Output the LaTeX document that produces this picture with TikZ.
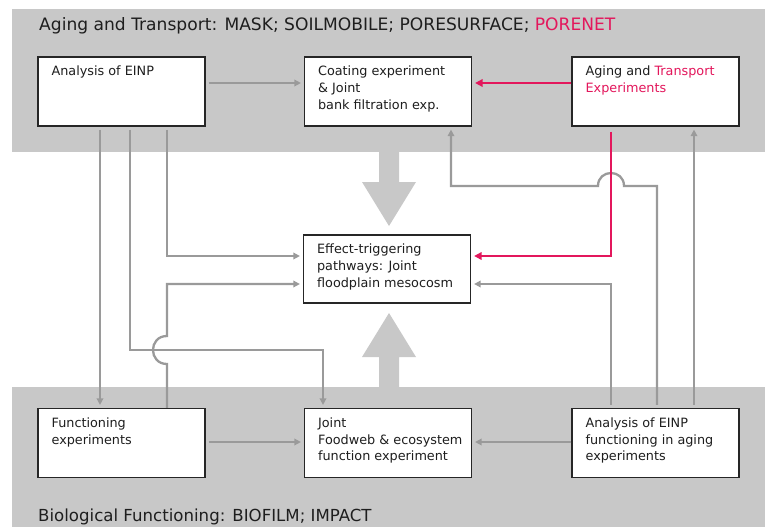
\documentclass[tikz,border=0pt]{standalone}
\usepackage{fontspec}
\setmainfont{DejaVu Sans}
\usetikzlibrary{arrows.meta}
\definecolor{bandgray}{HTML}{C8C8C8}
\definecolor{linegray}{HTML}{9A9A9A}
\definecolor{hotred}{HTML}{E3175C}
\definecolor{txt}{HTML}{1E1E1E}
\begin{document}
\begin{tikzpicture}[x=1pt,y=-1pt,
  box/.style={draw=black!85, line width=1.2pt, fill=white, minimum width=167pt, minimum height=69pt, inner sep=0pt},
  lbl/.style={inner sep=0pt, anchor=north west, align=left, text=txt, font=\fontsize{12.8}{16.7}\selectfont},
  ttl/.style={inner sep=0pt, anchor=base west, text=txt},
  conn/.style={draw=linegray, line width=2.3pt, -{Triangle[length=6.5pt,width=6.5pt]}, shorten <=3pt, shorten >=3pt},
  redconn/.style={draw=hotred, line width=2.4pt, -{Triangle[length=7.5pt,width=7.5pt]}, shorten >=3pt},
  bigarrow/.style={fill=bandgray}
]
\useasboundingbox (0,0) rectangle (765,527);
% bands
\fill[bandgray] (12,9) rectangle (765,152);
\fill[bandgray] (12,387) rectangle (765,527);
% big arrows
\fill[bigarrow] (379,150) -- (399,150) -- (399,182) -- (416,182) -- (389,226) -- (362,182) -- (379,182) -- cycle;
\fill[bigarrow] (379,389) -- (399,389) -- (399,357) -- (416,357) -- (389,313) -- (362,357) -- (379,357) -- cycle;
% titles
\node[ttl, font=\fontsize{17.1}{20}\selectfont] (ttop) at (39,31) {Aging and Transport: MASK; SOILMOBILE; PORESURFACE; \textcolor{hotred}{PORENET}};
\node[ttl, font=\fontsize{16.6}{19}\selectfont] (tbot) at (38,521) {Biological Functioning: BIOFILM; IMPACT};
% boxes
\node[box] (A1) at (121.5,91.5) {};
\node[box] (C)  at (388,91.5) {};
\node[box] (T)  at (655.5,91.5) {};
\node[box, minimum height=68pt] (M) at (387,269) {};
\node[box] (F)  at (121.5,443) {};
\node[box] (J)  at (388,443) {};
\node[box] (A2) at (655.5,443) {};
% labels
\node[lbl] (A1t) at ([xshift=14pt,yshift=-9.5pt]A1.north west) {Analysis of EINP};
\node[lbl] (Ct)  at ([xshift=14pt,yshift=-9.5pt]C.north west) {Coating experiment\\\& Joint\\bank filtration exp.};
\node[lbl] (Tt)  at ([xshift=14pt,yshift=-9.5pt]T.north west) {Aging and \textcolor{hotred}{Transport}\\\textcolor{hotred}{Experiments}};
\node[lbl] (Mt)  at ([xshift=14pt,yshift=-9.5pt]M.north west) {Effect-triggering\\pathways: Joint\\floodplain mesocosm};
\node[lbl] (Ft)  at ([xshift=14pt,yshift=-9.5pt]F.north west) {Functioning\\experiments};
\node[lbl] (Jt)  at ([xshift=14pt,yshift=-9.5pt]J.north west) {Joint\\Foodweb \& ecosystem\\function experiment};
\node[lbl] (A2t) at ([xshift=14pt,yshift=-9.5pt]A2.north west) {Analysis of EINP\\functioning in aging\\experiments};
% helper coordinates
\coordinate (x100) at (100,0);
\coordinate (x130) at (130,0);
\coordinate (x167) at (167,0);
\coordinate (x323) at (323,0);
\coordinate (x451) at (451,0);
\coordinate (x611) at (611,0);
\coordinate (x657) at (657,0);
\coordinate (x694) at (694,0);
\coordinate (y83) at (0,83);
\coordinate (y186) at (0,186);
\coordinate (y257) at (0,256);
\coordinate (y284) at (0,284);
\coordinate (y350) at (0,350);
\coordinate (y442) at (0,442);
% connectors
\draw[conn] (A1.east |- y83) -- (C.west |- y83);
\draw[redconn] (T.west |- y83) -- (C.east |- y83);
\draw[conn] (A1.south -| x100) -- (F.north -| x100);
\draw[conn] (A1.south -| x130) -- (x130 |- y350) -- (x323 |- y350) -- (J.north -| x323);
\draw[conn] (A1.south -| x167) -- (x167 |- y257) -- (M.west |- y257);
\draw[conn, shorten <=0pt] (F.north -| x167) -- (167,364) .. controls (148.3,364) and (148.3,336) .. (167,336) -- (x167 |- y284) -- (M.west |- y284);
\draw[conn] (A2.north -| x657) -- (x657 |- y186) -- (624,186) .. controls (624,168.7) and (598,168.7) .. (598,186) -- (x451 |- y186) -- (C.south -| x451);
\draw[redconn, shorten <=5pt] (T.south -| x611) -- (x611 |- y257) -- (M.east |- y257);
\draw[conn] (A2.north -| x611) -- (x611 |- y284) -- (M.east |- y284);
\draw[conn] (A2.north -| x694) -- (T.south -| x694);
\draw[conn] (F.east |- y442) -- (J.west |- y442);
\draw[conn, shorten <=0pt] (A2.west |- y442) -- (J.east |- y442);
\end{tikzpicture}
\end{document}
